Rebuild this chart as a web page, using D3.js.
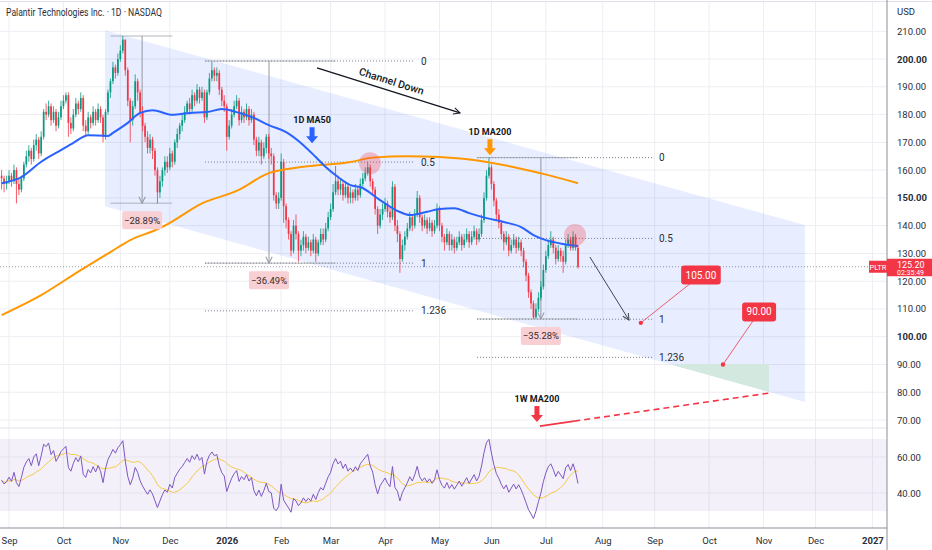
<!DOCTYPE html>
<html>
<head>
<meta charset="utf-8">
<script src="https://cdn.jsdelivr.net/npm/d3@7"></script>
<style>
  body { margin: 0; background: #fff; }
  svg { display: block; font-family: Roboto, "Noto Sans", sans-serif; }
</style>
</head>
<body>
<div id="vis"></div>
<script>
// daily candles, bar 0 = 27 Aug 2025 (weekdays only)
const closes = [
  157,155,156,158,156,160,155,153,157,162,
  165,167,164,169,171,166,172,181,180,183,
  178,181,176,179,183,185,187,177,175,180,
  184,182,186,176,174,179,177,181,178,182,
  179,172,181,188,192,197,195,200,203,207,
  196,185,178,183,192,188,181,176,172,168,
  171,167,160,152,156,160,163,161,166,163,
  170,173,176,178,181,184,182,187,185,189,
  186,188,179,188,193,196,194,195,189,185,
  183,172,176,180,183,185,178,181,179,182,
  178,180,171,167,170,165,168,172,166,165,
  151,148,150,163,147,142,137,131,140,137,
  131,133,136,132,134,131,135,130,134,137,
  135,139,143,146,152,156,153,155,151,154,
  150,152,150,153,151,155,157,159,161,156,
  153,146,140,144,146,148,145,143,154,140,
  137,128,133,136,139,143,140,144,150,143,
  140,142,139,141,138,140,146,140,136,134,
  137,133,135,132,134,136,133,135,137,134,
  136,138,135,137,142,150,158,161,155,149,
  144,141,137,134,136,131,133,135,132,134,
  131,127,122,116,112,107,110,114,118,124,
  129,133,135,132,128,131,129,127,133,135,
  132,136,132,125.2
];
const highs = [
  160,158,158,160,159,162,161,157,158,163,
  167,169,168,171,173,172,174,182,184,185,
  184,183,182,181,185,187,188,188,179,182,
  186,185,188,187,178,181,180,183,182,184,
  183,180,182,189,193,199,198,202,205,208.3,
  207,197,186,185,194.5,193,189,183,177,174,
  173,172,168,161,158,161,165,165,168,167,
  171,175,177,180,183,185,186,189,188,191,
  190,190,189,189,195,199,197,197,196,190,
  187,184,178,182,185,187,186,183,182,184,
  183,182,181,172,172,171,170,173,173,168,
  166,152,152,166,164,148,143,138,142,144,
  138,135,138,137,136,135,137,136,135,139,
  139,141,145,148,155,161.5,158,157,156,156,
  155,154,153,155,154,157,159,161,163,162,
  157,154,147,146,148,150,149,147,156,155,
  142,138,135,138,141,145,144,146,152.5,151,
  144,144,143,143,142,142,148,147,141,137,
  139,138,137,136,136,138,137,137,139,138,
  138,140,139,139,144,152,160,164.5,162,156,
  150,146,142,138,138,137,135,137,136,136,
  135,132,128,123,117,113,112,116,120,126,
  131,135,138,136,133,133,132,131,135,137,
  136,138,137,133
];
const lows = [
  153,152,153,155,154,155,148,151,152,156,
  161,163,162,163,167,164,165,171,178,179,
  176,177,174,175,178,182,184,172,173,174,
  179,180,181,174,172,173,175,176,176,177,
  177,170,171,180,186,191,193,194,199,202,
  194,183,170,176,182,185,179,174,170,166,
  166,164,158,148,150,154,158,159,160,161,
  162,168,171,174,177,180,180,181,183,184,
  184,185,177,178,187,192,192,192,187,183,
  181,167,171,175,179,182,176,177,177,178,
  176,177,169,165,165,162,164,166,164,162,
  149,146,146,149,141,139,135,129,130,135,
  127,129,131,130,131,129,130,127,129,133,
  133,134,138,142,145,151,151,151,149,150,
  148,148,148,149,149,150,154,156,158,154,
  151,144,137,139,142,145,143,141,142,138,
  134,123,127,131,135,138,138,139,143,141,
  138,139,137,138,136,137,139,138,134,131,
  133,131,131,130,131,133,131,132,134,132,
  133,135,133,134,136,141,149,157,153,147,
  142,139,135,131,133,129,130,132,130,131,
  129,125,120,114,110,106.4,106.5,109,113,117,
  123,128,132,130,126,127,127,123,126,132,
  131,131,131,124.5
];
const FIRST_OPEN = 158;
const opens = [FIRST_OPEN].concat(closes.slice(0, -1));
const LAST_PRICE = 125.20;

// moving averages (bar index, value)
const ma50Idx = [0,8,16,24,29,35,43,45,51,56,61,69,76,83,89,95,102,108,115,122,127,131,136,141,145,153,161,165,172,177,183,189,196,203,210,215,220,227,233];
const ma50Val = [155.3,157.5,163,167.2,169.8,172.6,172.3,173.4,177,180.6,181.6,179.9,180.6,180.9,182,180.9,178.8,176.2,173.7,169,164.7,161.1,157.5,154.6,153.9,149.2,144.9,143.8,145,146,146.3,144.5,142.7,141.3,139.5,136.6,134.8,133.4,132.7];
const ma200Idx = [0,16,32,44,52,64,68,81,95,108,121,141,150,164,177,193,209,221,233];
const ma200Val = [107.8,115,124,130.5,134.8,139.1,141,148,152.5,158.9,161.1,162.9,164.5,165,164.7,163.4,160.7,158.2,155.3];

// RSI(14) from the closes, seeded with starting average gain / loss
const RSI_LEN = 14;
const RSI_MA_LEN = 14;
const rsiSeed = [1.6, 1.8];

// axes
const monthIdx = [3,25,48,68,91,113,133,155,177,198,220,243,264,286,308,329,352];
const monthLabels = ['Sep','Oct','Nov','Dec','2026','Feb','Mar','Apr','May','Jun','Jul','Aug','Sep','Oct','Nov','Dec','2027'];
const priceTicks = [210,200,190,180,170,160,150,140,130,120,110,100,90,80,70];
const boldPrices = [200,150,100];
const rsiTicks = [60, 40];

// drawings, in (bar index, price)
const channelTop = [[41.8, 210.4], [324.7, 140.2]];
const channelBottom = [[41.8, 147], [324.7, 76.5]];
const targetZone = {from: 264.5, to: 310.2, top: 90.1, bottom: 79};
const fibLevels = [0, 0.5, 1, 1.236];
const fibs = [
  {from: 82.2, to: 167.1, p0: 199.3, p1: 126.5},
  {from: 192.2, to: 263.3, p0: 164.5, p1: 106.3}
];
const measures = [
  {from: 44, to: 69, mid: 56.8, top: 208.3, bottom: 148.1, label: '\u221228.89%'},
  {from: 82.2, to: 135, mid: 108.1, top: 199.3, bottom: 126.5, label: '\u221236.49%'},
  {from: 192.2, to: 233, mid: 218, top: 164.5, bottom: 106.4, label: '\u221235.28%'}
];
const maArrows = [
  {text: '1D MA50', idx: 125.5, price: 169.7, color: '#2962ff'},
  {text: '1D MA200', idx: 197.4, price: 165.4, color: '#ff9800'},
  {text: '1W MA200', idx: 216.4, price: 69.3, color: '#f23645'}
];
const highlights = [[148.9, 162.5], [231.8, 136.6]];
const channelArrow = [[127.5, 196.8], [185.3, 180.6]];
const pathArrow = [[237.8, 128.7], [253.6, 106]];
const targets = [
  {idx: 258.4, price: 105, boxIdx: 282.7, boxPrice: 122.2, label: '105.00'},
  {idx: 291.6, price: 90, boxIdx: 306.2, boxPrice: 108.9, label: '90.00'}
];
const weeklyMa200 = [[217.6, 67.8], [231.5, 69.6], [310.2, 79.7]];

const WIDTH = 932, HEIGHT = 550;
const PLOT_R = 887;
const PANE_SPLIT = 428, AXIS_Y = 528;

const X = d3.scaleLinear().domain([0, 352]).range([1.6, 872.4]);
const Y = d3.scaleLinear().domain([70, 210]).range([420, 31.3]);
const R = d3.scaleLinear().domain([30, 70]).range([511, 439]);

const svg = d3.select('#vis').append('svg')
  .attr('width', WIDTH).attr('height', HEIGHT);

const defs = svg.append('defs');
defs.append('clipPath').attr('id', 'clipPrice')
  .append('rect').attr('x', 0).attr('y', 2).attr('width', PLOT_R).attr('height', PANE_SPLIT - 2);
defs.append('clipPath').attr('id', 'clipRsi')
  .append('rect').attr('x', 0).attr('y', PANE_SPLIT).attr('width', PLOT_R).attr('height', AXIS_Y - PANE_SPLIT);

const channelPts = [channelTop[0], channelTop[1], channelBottom[1], channelBottom[0]]
  .map(d => [X(d[0]), Y(d[1])]);
defs.append('clipPath').attr('id', 'clipChannel')
  .append('polygon').attr('points', channelPts.map(d => d.join(',')).join(' '));

function marker(id, color) {
  defs.append('marker').attr('id', id)
    .attr('viewBox', '0 0 10 10').attr('refX', 9).attr('refY', 5)
    .attr('markerWidth', 8).attr('markerHeight', 8)
    .attr('markerUnits', 'userSpaceOnUse')
    .attr('orient', 'auto')
    .append('path').attr('d', 'M1,1 L9,5 L1,9')
      .attr('fill', 'none').attr('stroke', color).attr('stroke-width', 1.3);
}
marker('arrBlack', '#131722');
marker('arrGray', '#434651');
marker('arrMeasure', '#9598a1');

// grid
const grid = svg.append('g');
grid.selectAll('.vg').data(monthIdx).enter().append('line')
  .attr('x1', d => X(d)).attr('x2', d => X(d))
  .attr('y1', 2).attr('y2', AXIS_Y)
  .attr('stroke', '#eceef3');
grid.selectAll('.hg').data(priceTicks).enter().append('line')
  .attr('x1', 0).attr('x2', PLOT_R)
  .attr('y1', d => Y(d)).attr('y2', d => Y(d))
  .attr('stroke', '#eceef3');
grid.append('line').attr('x1', 0).attr('x2', WIDTH).attr('y1', 1.5).attr('y2', 1.5)
  .attr('stroke', '#e0e3eb');

// price pane
const price = svg.append('g').attr('clip-path', 'url(#clipPrice)');

// last price line
price.append('line')
  .attr('x1', 0).attr('x2', PLOT_R)
  .attr('y1', Y(LAST_PRICE)).attr('y2', Y(LAST_PRICE))
  .attr('stroke', '#9598a1').attr('stroke-dasharray', '1 2');

price.append('polygon')
  .attr('points', channelPts.map(d => d.join(',')).join(' '))
  .attr('fill', 'rgba(41,98,255,0.11)');

price.append('g').attr('clip-path', 'url(#clipChannel)')
  .append('rect')
    .attr('x', X(targetZone.from)).attr('y', Y(targetZone.top))
    .attr('width', X(targetZone.to) - X(targetZone.from))
    .attr('height', Y(targetZone.bottom) - Y(targetZone.top))
    .attr('fill', '#d3e9e0');

// fib levels
fibs.forEach(f => {
  const g = price.append('g');
  fibLevels.forEach(l => {
    const p = f.p0 - l * (f.p0 - f.p1);
    g.append('line')
      .attr('x1', X(f.from)).attr('x2', X(f.to))
      .attr('y1', Y(p)).attr('y2', Y(p))
      .attr('stroke', '#787b86').attr('stroke-dasharray', '1 2');
    g.append('text')
      .attr('x', X(f.to) + 6).attr('y', Y(p) + 3.5)
      .attr('font-size', 10).attr('fill', '#2a2e39')
      .text(l === 0 ? '0' : l === 1 ? '1' : l);
  });
});

// measurements
measures.forEach(m => {
  const g = price.append('g').attr('stroke', '#9598a1').attr('fill', 'none');
  [m.top, m.bottom].forEach(p => {
    g.append('line')
      .attr('x1', X(m.from)).attr('x2', X(m.to))
      .attr('y1', Y(p)).attr('y2', Y(p))
      .attr('stroke-opacity', 0.7);
  });
  g.append('line')
    .attr('x1', X(m.mid)).attr('x2', X(m.mid))
    .attr('y1', Y(m.top)).attr('y2', Y(m.bottom))
    .attr('marker-end', 'url(#arrMeasure)');
});

// candles
const candles = price.append('g');
closes.forEach((c, i) => {
  const o = opens[i];
  const col = c >= o ? '#089981' : '#f23645';
  candles.append('line')
    .attr('x1', X(i)).attr('x2', X(i))
    .attr('y1', Y(highs[i])).attr('y2', Y(lows[i]))
    .attr('stroke', col).attr('stroke-width', 0.8);
  candles.append('rect')
    .attr('x', X(i) - 0.85).attr('width', 1.7)
    .attr('y', Y(Math.max(o, c)))
    .attr('height', Math.max(1, Math.abs(Y(o) - Y(c))))
    .attr('fill', col);
});

// moving averages
const maLine = d3.line().x(d => X(d[0])).y(d => Y(d[1])).curve(d3.curveMonotoneX);
price.append('path')
  .attr('d', maLine(d3.zip(ma200Idx, ma200Val)))
  .attr('fill', 'none').attr('stroke', '#ff9800').attr('stroke-width', 2);
price.append('path')
  .attr('d', maLine(d3.zip(ma50Idx, ma50Val)))
  .attr('fill', 'none').attr('stroke', '#2962ff').attr('stroke-width', 2);

// highlight circles
price.selectAll('.hl').data(highlights).enter().append('circle')
  .attr('cx', d => X(d[0])).attr('cy', d => Y(d[1])).attr('r', 11)
  .attr('fill', 'rgba(242,54,69,0.28)');

// measurement labels
measures.forEach(m => {
  const cx = X(m.mid), top = Y(m.bottom) + 8;
  price.append('rect')
    .attr('x', cx - 20).attr('y', top).attr('width', 40).attr('height', 18)
    .attr('rx', 2).attr('fill', '#f8d0d4');
  price.append('text')
    .attr('x', cx).attr('y', top + 12.5).attr('text-anchor', 'middle')
    .attr('font-size', 9.5).attr('fill', '#3b2a2d')
    .text(m.label);
});

// weekly MA200
price.append('line')
  .attr('x1', X(weeklyMa200[0][0])).attr('y1', Y(weeklyMa200[0][1]))
  .attr('x2', X(weeklyMa200[1][0])).attr('y2', Y(weeklyMa200[1][1]))
  .attr('stroke', '#f23645').attr('stroke-width', 1.6);
price.append('line')
  .attr('x1', X(weeklyMa200[1][0])).attr('y1', Y(weeklyMa200[1][1]))
  .attr('x2', X(weeklyMa200[2][0])).attr('y2', Y(weeklyMa200[2][1]))
  .attr('stroke', '#f23645').attr('stroke-width', 1.6)
  .attr('stroke-dasharray', '6 4');

// MA arrows
maArrows.forEach(a => {
  const x = X(a.idx), y = Y(a.price);
  price.append('path')
    .attr('d', `M${x},${y} L${x - 6},${y - 7} L${x - 2.5},${y - 7} L${x - 2.5},${y - 16} L${x + 2.5},${y - 16} L${x + 2.5},${y - 7} L${x + 6},${y - 7} Z`)
    .attr('fill', a.color);
  price.append('text')
    .attr('x', x).attr('y', y - 20).attr('text-anchor', 'middle')
    .attr('font-size', 9).attr('font-weight', 700).attr('fill', '#131722')
    .text(a.text);
});

// Channel Down arrow
const ca = channelArrow.map(d => [X(d[0]), Y(d[1])]);
price.append('line')
  .attr('x1', ca[0][0]).attr('y1', ca[0][1]).attr('x2', ca[1][0]).attr('y2', ca[1][1])
  .attr('stroke', '#131722').attr('stroke-width', 1.4)
  .attr('marker-end', 'url(#arrBlack)');
const ang = Math.atan2(ca[1][1] - ca[0][1], ca[1][0] - ca[0][0]) * 180 / Math.PI;
price.append('text')
  .attr('transform', `translate(${(ca[0][0] + ca[1][0]) / 2},${(ca[0][1] + ca[1][1]) / 2}) rotate(${ang})`)
  .attr('y', -6).attr('text-anchor', 'middle')
  .attr('font-size', 10.5).attr('font-weight', 500).attr('fill', '#131722')
  .text('Channel Down');

// projected path arrow
const pa = pathArrow.map(d => [X(d[0]), Y(d[1])]);
price.append('line')
  .attr('x1', pa[0][0]).attr('y1', pa[0][1]).attr('x2', pa[1][0]).attr('y2', pa[1][1])
  .attr('stroke', '#434651').attr('stroke-width', 1)
  .attr('marker-end', 'url(#arrGray)');

// price targets
targets.forEach(t => {
  const x = X(t.idx), y = Y(t.price), bx = X(t.boxIdx), by = Y(t.boxPrice);
  price.append('line')
    .attr('x1', x).attr('y1', y).attr('x2', bx).attr('y2', by)
    .attr('stroke', '#f23645').attr('stroke-opacity', 0.8);
  price.append('circle').attr('cx', x).attr('cy', y).attr('r', 2.2).attr('fill', '#f23645');
  const w = t.label.length * 5.6 + 6;
  price.append('rect')
    .attr('x', bx - w / 2).attr('y', by - 9.5).attr('width', w).attr('height', 19)
    .attr('rx', 3).attr('fill', '#f23645');
  price.append('text')
    .attr('x', bx).attr('y', by + 3.5).attr('text-anchor', 'middle')
    .attr('font-size', 10).attr('fill', '#fff')
    .text(t.label);
});

// RSI pane
let ag = rsiSeed[0], al = rsiSeed[1];
const rsi = closes.map((c, i) => {
  if (i > 0) {
    const ch = c - closes[i - 1];
    ag = (ag * (RSI_LEN - 1) + Math.max(ch, 0)) / RSI_LEN;
    al = (al * (RSI_LEN - 1) + Math.max(-ch, 0)) / RSI_LEN;
  }
  return 100 - 100 / (1 + ag / al);
});
const rsiMa = rsi.map((v, i) => d3.mean(rsi.slice(Math.max(0, i - RSI_MA_LEN + 1), i + 1)));

const rsiG = svg.append('g').attr('clip-path', 'url(#clipRsi)');
rsiG.append('rect')
  .attr('x', 0).attr('width', PLOT_R)
  .attr('y', R(70)).attr('height', R(30) - R(70))
  .attr('fill', 'rgba(126,87,194,0.09)');
rsiG.selectAll('.rg').data(rsiTicks).enter().append('line')
  .attr('x1', 0).attr('x2', PLOT_R)
  .attr('y1', d => R(d)).attr('y2', d => R(d))
  .attr('stroke', '#e6e3ef');
const rsiLine = d3.line().x((d, i) => X(i)).y(d => R(d));
rsiG.append('path').attr('d', rsiLine(rsiMa))
  .attr('fill', 'none').attr('stroke', '#f7c948').attr('stroke-width', 1);
rsiG.append('path').attr('d', rsiLine(rsi))
  .attr('fill', 'none').attr('stroke', '#7e57c2').attr('stroke-width', 1);

// separators
svg.append('line').attr('x1', 0).attr('x2', PLOT_R).attr('y1', PANE_SPLIT).attr('y2', PANE_SPLIT)
  .attr('stroke', '#e0e3eb');
svg.append('line').attr('x1', 0).attr('x2', PLOT_R).attr('y1', AXIS_Y).attr('y2', AXIS_Y)
  .attr('stroke', '#8a8e99');
svg.append('line').attr('x1', PLOT_R).attr('x2', PLOT_R).attr('y1', 0).attr('y2', HEIGHT)
  .attr('stroke', '#8a8e99');

// axes
const yAxis = svg.append('g').attr('transform', `translate(${PLOT_R},0)`)
  .call(d3.axisRight(Y).tickValues(priceTicks).tickFormat(d3.format('.2f')).tickSize(0).tickPadding(10));
const rAxis = svg.append('g').attr('transform', `translate(${PLOT_R},0)`)
  .call(d3.axisRight(R).tickValues(rsiTicks).tickFormat(d3.format('.2f')).tickSize(0).tickPadding(10));
const xAxis = svg.append('g').attr('transform', `translate(0,${AXIS_Y})`)
  .call(d3.axisBottom(X).tickValues(monthIdx).tickFormat((d, i) => monthLabels[i]).tickSize(0).tickPadding(9));
[yAxis, rAxis, xAxis].forEach(a => {
  a.select('.domain').remove();
  a.selectAll('text').attr('font-family', 'Roboto, "Noto Sans", sans-serif')
    .attr('font-size', 9.5).attr('fill', '#2a2e39');
});
yAxis.selectAll('text').attr('font-weight', d => boldPrices.includes(d) ? 700 : 400);
xAxis.selectAll('text').attr('font-weight', d => monthLabels[monthIdx.indexOf(d)].length === 4 ? 700 : 400);

svg.append('text').attr('x', 897).attr('y', 15)
  .attr('font-size', 9.5).attr('fill', '#2a2e39').text('USD');

// last price labels
const ly = Y(LAST_PRICE);
svg.append('rect').attr('x', 869).attr('y', ly - 6).attr('width', 18).attr('height', 12)
  .attr('fill', '#f23645');
svg.append('text').attr('x', 878).attr('y', ly + 3).attr('text-anchor', 'middle')
  .attr('font-size', 7.5).attr('fill', '#fff').text('PLTR');
svg.append('rect').attr('x', PLOT_R).attr('y', ly - 8).attr('width', 45).attr('height', 17.5)
  .attr('fill', '#f23645');
svg.append('text').attr('x', 897).attr('y', ly + 1.5)
  .attr('font-size', 9).attr('fill', '#fff').text(d3.format('.2f')(LAST_PRICE));
svg.append('text').attr('x', 897).attr('y', ly + 8.5)
  .attr('font-size', 7).attr('fill', '#fff').text('02:35:49');

// title
svg.append('text').attr('x', 6).attr('y', 16)
  .attr('font-size', 10.5).attr('fill', '#2a2e39')
  .attr('textLength', 156).attr('lengthAdjust', 'spacingAndGlyphs')
  .text('Palantir Technologies Inc. \u00b7 1D \u00b7 NASDAQ');
</script>
</body>
</html>
